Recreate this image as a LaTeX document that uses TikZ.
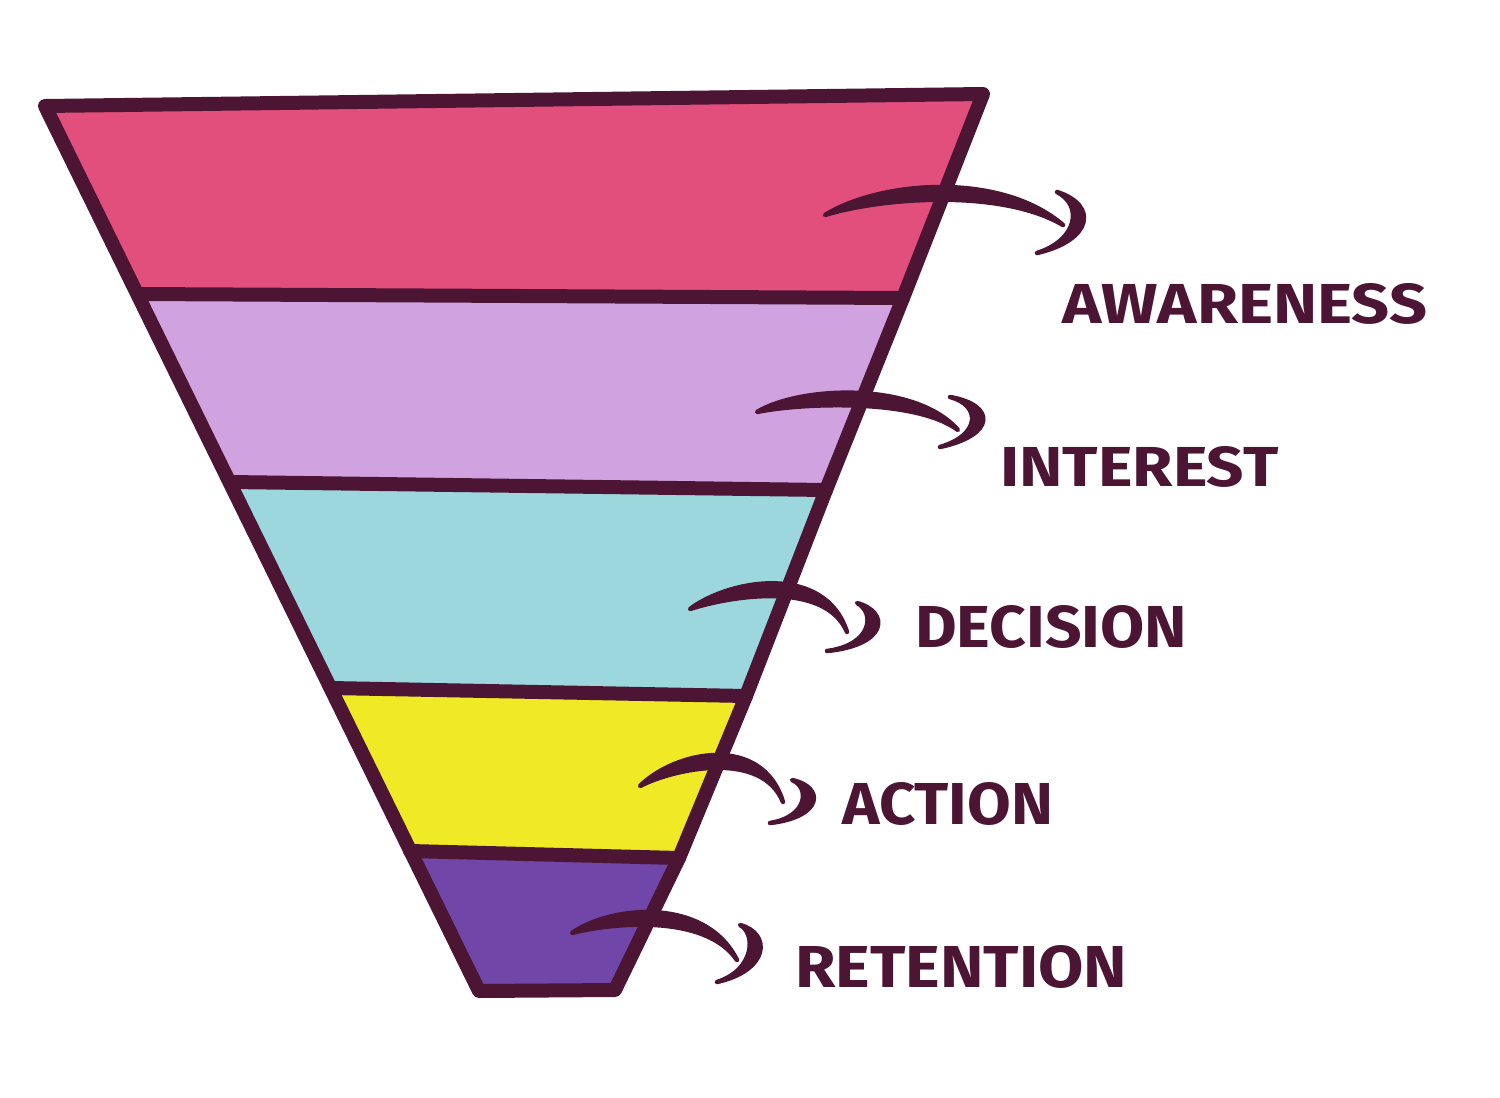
\documentclass[tikz,border=0pt]{standalone}
\usepackage{fontspec}
\setmainfont{Fira Sans}
\usepackage{graphicx}
\definecolor{ink}{HTML}{4B1533}
\definecolor{cpink}{HTML}{E34F7C}
\definecolor{clav}{HTML}{D0A3E0}
\definecolor{cteal}{HTML}{9CD7DE}
\definecolor{cyel}{HTML}{EFE926}
\definecolor{cpurp}{HTML}{7046A8}
\tikzset{
  band/.style={fill=#1, draw=none},
  rim/.style={draw=ink, line width=14pt, line join=round, line cap=round},
  swoosh/.style={fill=ink, draw=ink, line width=4.5pt, line join=round, line cap=round},
  lbl/.style={anchor=north west, inner sep=0pt, text=ink, font=\bfseries}
}
\begin{document}
\begin{tikzpicture}[x=1pt,y=-1pt]
\useasboundingbox (0,0) rectangle (1500,1098);
% funnel corners
\coordinate (L0) at (45,106);
\coordinate (L1) at (138,294);
\coordinate (L2) at (230,482);
\coordinate (L3) at (331,688);
\coordinate (L4) at (410,851);
\coordinate (L5) at (479,991);
\coordinate (R0) at (983,94);
\coordinate (R1) at (903,298);
\coordinate (R2) at (826,490);
\coordinate (R3) at (746,696);
\coordinate (R4) at (679,858);
\coordinate (R5) at (615,990);
% bands
\path[band=cpink] (L0) -- (R0) -- (R1) -- (L1) -- cycle;
\path[band=clav] (L1) -- (R1) -- (R2) -- (L2) -- cycle;
\path[band=cteal] (L2) -- (R2) -- (R3) -- (L3) -- cycle;
\path[band=cyel] (L3) -- (R3) -- (R4) -- (L4) -- cycle;
\path[band=cpurp] (L4) -- (R4) -- (R5) -- (L5) -- cycle;
% dividers
\draw[rim] (L1) -- (R1);
\draw[rim] (L2) -- (R2);
\draw[rim] (L3) -- (R3);
\draw[rim] (L4) -- (R4);
% outline
\draw[rim] (L0) -- (R0) -- (R1) -- (R2) -- (R3) -- (R4) -- (R5) -- (L5) -- cycle;
% swooshes: main curve (s,c1,c2,e) and hook (hs,ha,hb,he)
\newcommand{\mkswoosh}[9]{%
  \coordinate (#1s) at #2; \coordinate (#1a) at #3; \coordinate (#1b) at #4; \coordinate (#1e) at #5;
  \coordinate (#1hs) at #6; \coordinate (#1ha) at #7; \coordinate (#1hb) at #8; \coordinate (#1he) at #9;
  \filldraw[swoosh] (#1s) .. controls ([shift={(0,-9)}]#1a) and ([shift={(0,-9)}]#1b) .. (#1e)
     .. controls ([shift={(0,8)}]#1b) and ([shift={(0,8)}]#1a) .. (#1s) -- cycle;
  \filldraw[swoosh] (#1hs) .. controls ([shift={(8,0)}]#1ha) and ([shift={(8,0)}]#1hb) .. (#1he)
     .. controls ([shift={(-7,0)}]#1hb) and ([shift={(-7,0)}]#1ha) .. (#1hs) -- cycle;
}
\mkswoosh{A}{(825,215)}{(880,190)}{(1000,180)}{(1063,225)}{(1057,192)}{(1090,205)}{(1085,240)}{(1037,253)}
\mkswoosh{B}{(757,412)}{(800,395)}{(915,390)}{(958,430)}{(950,397)}{(988,405)}{(988,435)}{(940,447)}
\mkswoosh{C}{(690,609)}{(730,588)}{(825,572)}{(847,632)}{(857,603)}{(882,612)}{(880,645)}{(827,651)}
\mkswoosh{D}{(640,786)}{(675,760)}{(762,742)}{(783,802)}{(792,780)}{(817,787)}{(815,817)}{(770,823)}
\mkswoosh{E}{(572,933)}{(610,915)}{(705,905)}{(737,960)}{(740,925)}{(763,933)}{(762,970)}{(717,982)}
% labels
\node[lbl] (tA) at (1062,283) {\resizebox{365pt}{40pt}{AWARENESS}};
\node[lbl] (tB) at (1000,446) {\resizebox{278pt}{40pt}{INTEREST}};
\node[lbl] (tC) at (915,605) {\resizebox{272pt}{42pt}{DECISION}};
\node[lbl] (tD) at (842,782) {\resizebox{211pt}{42pt}{ACTION}};
\node[lbl] (tE) at (795,945) {\resizebox{332pt}{42pt}{RETENTION}};
\end{tikzpicture}
\end{document}
